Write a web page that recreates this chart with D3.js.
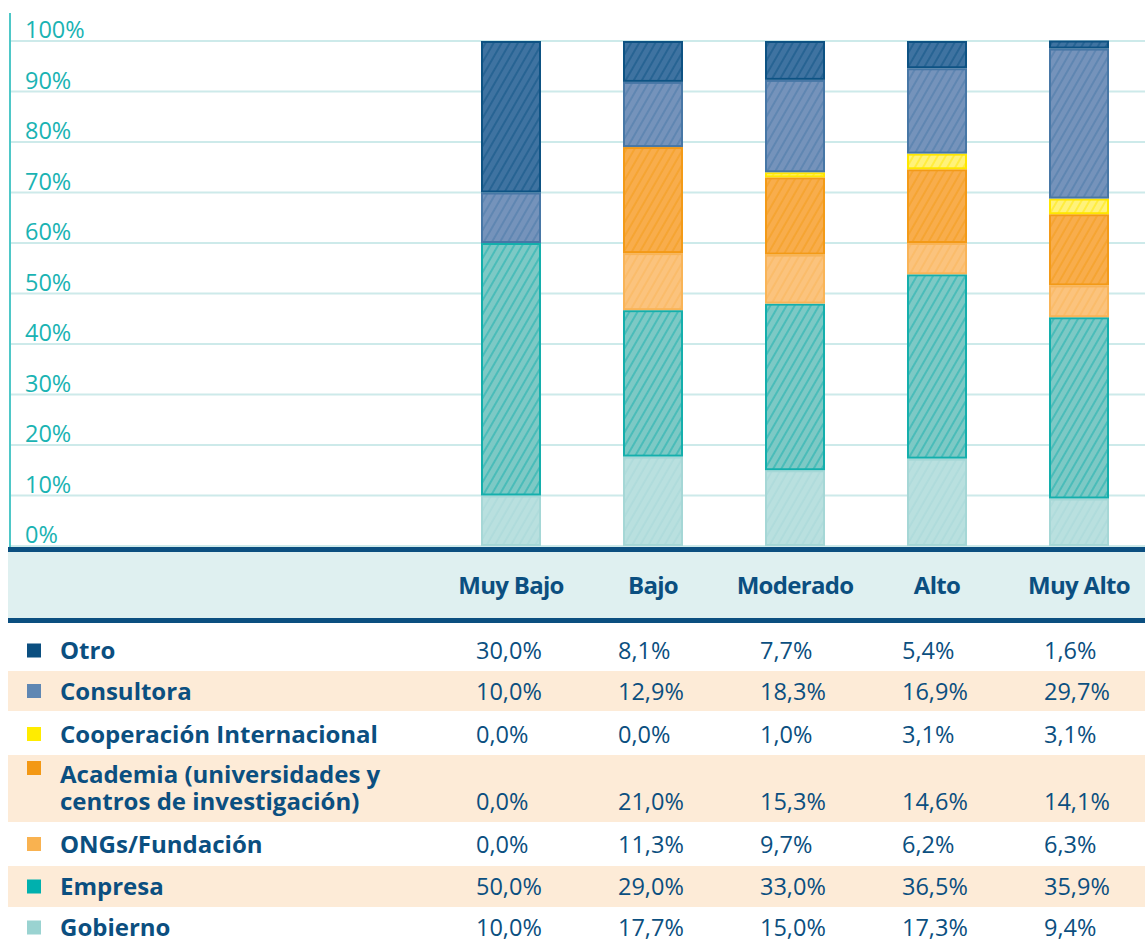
<!DOCTYPE html>
<html>
<head>
<meta charset="utf-8">
<script src="https://cdn.jsdelivr.net/npm/d3@7"></script>
<style>
  body { margin: 0; background: #fff; }
  svg { display: block; font-family: "Open Sans", sans-serif; }
</style>
</head>
<body>
<script>
///////////////////   Data   /////////////////

var levels = ["Muy Bajo", "Bajo", "Moderado", "Alto", "Muy Alto"];

// bottom to top in the stack
var series = ["Gobierno", "Empresa", "ONGs/Fundación", "Academia (universidades y centros de investigación)",
              "Cooperación Internacional", "Consultora", "Otro"];

var gobierno    = [10.0, 17.7, 15.0, 17.3, 9.4],
    empresa     = [50.0, 29.0, 33.0, 36.5, 35.9],
    ongs        = [0.0, 11.3, 9.7, 6.2, 6.3],
    academia    = [0.0, 21.0, 15.3, 14.6, 14.1],
    cooperacion = [0.0, 0.0, 1.0, 3.1, 3.1],
    consultora  = [10.0, 12.9, 18.3, 16.9, 29.7],
    otro        = [30.0, 8.1, 7.7, 5.4, 1.6];

var yTicks = [0, 10, 20, 30, 40, 50, 60, 70, 80, 90, 100];

///////////////////   Styles   /////////////////

var navy = "#0b4f80";

// legend colour, bar fill, bar outline/hatch
var styles = {
  "Otro":                      ["#0b4f80", "#3f73a1", "#0d5283"],
  "Consultora":                ["#5f87b3", "#7593bb", "#4777a6"],
  "Cooperación Internacional": ["#ffec00", "#fff27a", "#ffe600"],
  "Academia (universidades y centros de investigación)": ["#f39814", "#f8ad4c", "#f39a17"],
  "ONGs/Fundación":            ["#f9b250", "#fbc37d", "#f9b457"],
  "Empresa":                   ["#00b0ae", "#7dc9c5", "#14afac"],
  "Gobierno":                  ["#9ad3d1", "#b9e0df", "#a5d7d6"]
};

var valuesBySeries = {
  "Gobierno": gobierno, "Empresa": empresa, "ONGs/Fundación": ongs,
  "Academia (universidades y centros de investigación)": academia,
  "Cooperación Internacional": cooperacion, "Consultora": consultora, "Otro": otro
};

// table rows are listed top to bottom
var rowOrder = series.slice().reverse();

var W = 1145, H = 948;

var svg = d3.select("body").append("svg").attr("width", W).attr("height", H);

var fmt = d3.formatLocale({ decimal: ",", thousands: ".", grouping: [3], currency: ["", ""] }).format(".1f");

var x = d3.scaleBand().domain(levels).range([440, 1150]);
var y = d3.scaleLinear().domain([0, 100]).range([546, 41]);
var barW = 60;

////////////////	Hatch patterns      //////////////

var defs = svg.append("defs");
series.forEach(function(s, i) {
  var p = defs.append("pattern")
    .attr("id", "hatch" + i)
    .attr("patternUnits", "userSpaceOnUse")
    .attr("width", 7).attr("height", 7)
    .attr("patternTransform", "rotate(30)");
  p.append("rect").attr("width", 7).attr("height", 7).attr("fill", styles[s][1]);
  p.append("line").attr("x1", 1).attr("y1", 0).attr("x2", 1).attr("y2", 7)
    .attr("stroke", styles[s][2]).attr("stroke-width", 1.3).attr("stroke-opacity", 0.75);
});

////////////////	Grid and axis      //////////////

svg.append("g").selectAll("line").data(yTicks).enter().append("line")
  .attr("x1", 10).attr("x2", W)
  .attr("y1", function(d) { return y(d); }).attr("y2", function(d) { return y(d); })
  .attr("stroke", "#cdeaea").attr("stroke-width", 2);

svg.append("g").selectAll("text").data(yTicks).enter().append("text")
  .attr("x", 25).attr("y", function(d) { return y(d) - 3; })
  .attr("fill", "#1ab3b3").attr("font-size", 23.5)
  .text(function(d) { return d + "%"; });

svg.append("line").attr("x1", 10).attr("x2", 10).attr("y1", 13).attr("y2", 547)
  .attr("stroke", "#4ec7c7").attr("stroke-width", 2);

////////////////	Stacked bars      //////////////

var table = levels.map(function(l, j) {
  var row = { level: l };
  series.forEach(function(s) { row[s] = valuesBySeries[s][j]; });
  return row;
});
var stacked = d3.stack().keys(series)(table);

var layers = svg.append("g").selectAll("g").data(stacked).enter().append("g");
layers.selectAll("rect")
  .data(function(d) { return d.filter(function(v) { return v[1] - v[0] > 0; }); })
  .enter().append("rect")
  .attr("x", function(d) { return x(d.data.level) + x.bandwidth() / 2 - barW / 2 + 1; })
  .attr("y", function(d) { return y(d[1]) + 1; })
  .attr("width", barW - 2)
  .attr("height", function(d) { return Math.max(0, y(d[0]) - y(d[1]) - 2); })
  .attr("fill", function() { return "url(#hatch" + series.indexOf(d3.select(this.parentNode).datum().key) + ")"; })
  .attr("stroke", function() { return styles[d3.select(this.parentNode).datum().key][2]; })
  .attr("stroke-width", 2);

////////////////	Header band      //////////////

svg.append("rect").attr("x", 8).attr("y", 550).attr("width", W - 8).attr("height", 70).attr("fill", "#dff0f0");
svg.append("rect").attr("x", 8).attr("y", 547).attr("width", W - 8).attr("height", 5).attr("fill", navy);
svg.append("rect").attr("x", 8).attr("y", 618).attr("width", W - 8).attr("height", 5).attr("fill", navy);

svg.append("g").selectAll("text").data(levels).enter().append("text")
  .attr("x", function(d) { return x(d) + x.bandwidth() / 2; })
  .attr("y", 594)
  .attr("text-anchor", "middle")
  .attr("fill", navy).attr("font-size", 24).attr("font-weight", 700)
  .attr("letter-spacing", -0.7)
  .text(function(d) { return d; });

////////////////	Table rows      //////////////

var rowTop = [630, 671, 713, 755, 822, 866, 907];
var rowBottom = [671, 711, 755, 822, 866, 907, 948];

var rows = svg.append("g").selectAll("g").data(rowOrder).enter().append("g");

rows.filter(function(d, i) { return i % 2 == 1; }).append("rect")
  .attr("x", 8).attr("width", W - 8)
  .attr("y", function(d) { return rowTop[rowOrder.indexOf(d)]; })
  .attr("height", function(d) { var i = rowOrder.indexOf(d); return rowBottom[i] - rowTop[i]; })
  .attr("fill", "#fdebd7");

rows.append("rect")
  .attr("x", 27).attr("width", 14).attr("height", 14)
  .attr("y", function(d, i) { return (i == 3 ? 768 : (rowTop[i] + rowBottom[i]) / 2) - 7; })
  .attr("fill", function(d) { return styles[d][0]; });

rows.each(function(d, i) {
  var g = d3.select(this);
  // the academia label wraps onto two lines
  var lines = i == 3 ? ["Academia (universidades y", "centros de investigación)"] : [d];
  var base = i == 3 ? 783 : (rowTop[i] + rowBottom[i]) / 2 + 8.5;
  var label = g.append("text").attr("y", base)
    .attr("fill", navy).attr("font-size", 24).attr("font-weight", 700);
  lines.forEach(function(t, k) {
    label.append("tspan").attr("x", 60).attr("dy", k == 0 ? 0 : 27).text(t);
  });
  var vy = i == 3 ? 810 : base;
  g.selectAll("text.val").data(valuesBySeries[d]).enter().append("text")
    .attr("class", "val")
    .attr("x", function(v, j) { return x(levels[j]) + x.bandwidth() / 2 - 35; })
    .attr("y", vy)
    .attr("fill", navy).attr("font-size", 23.5)
    .text(function(v) { return fmt(v) + "%"; });
});
</script>
</body>
</html>
